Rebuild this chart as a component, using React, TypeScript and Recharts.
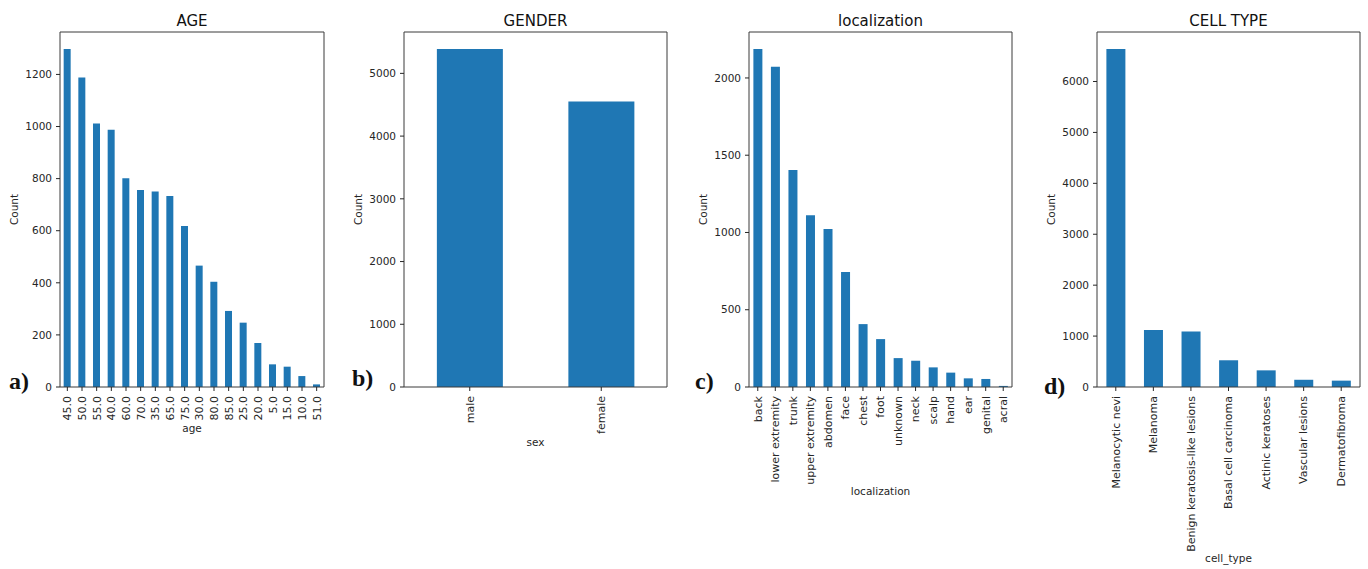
import React from "react";
import { BarChart, Bar, XAxis, YAxis, Label, CartesianGrid } from "recharts";

const BLUE = "#1f77b4";
const INK = "#262626";
const EDGE = "#3a3a3a";
const SANS = "'DejaVu Sans', sans-serif";
const SERIF = "'Liberation Serif', serif";

// a) AGE
const ageLabels = ["45.0", "50.0", "55.0", "40.0", "60.0", "70.0", "35.0", "65.0", "75.0", "30.0", "80.0", "85.0", "25.0", "20.0", "5.0", "15.0", "10.0", "51.0"];
const ageCounts = [1298, 1188, 1012, 988, 801, 756, 751, 733, 618, 466, 404, 292, 247, 169, 87, 78, 42, 10];
const ageTicks = [0, 200, 400, 600, 800, 1000, 1200];

// b) GENDER
const sexLabels = ["male", "female"];
const sexCounts = [5390, 4550];
const sexTicks = [0, 1000, 2000, 3000, 4000, 5000];

// c) localization
const locLabels = ["back", "lower extremity", "trunk", "upper extremity", "abdomen", "face", "chest", "foot", "unknown", "neck", "scalp", "hand", "ear", "genital", "acral"];
const locCounts = [2188, 2073, 1405, 1112, 1022, 744, 407, 310, 187, 170, 127, 93, 56, 52, 7];
const locTicks = [0, 500, 1000, 1500, 2000];

// d) CELL TYPE
const cellLabels = ["Melanocytic nevi", "Melanoma", "Benign keratosis-like lesions", "Basal cell carcinoma", "Actinic keratoses", "Vascular lesions", "Dermatofibroma"];
const cellCounts = [6640, 1117, 1088, 525, 327, 142, 125];
const cellTicks = [0, 1000, 2000, 3000, 4000, 5000, 6000];

const PLOT_TOP = 32;
const PLOT_BOTTOM = 387;
const H = 569;
const YW = 60;

const RotTick = ({ x, y, payload }: any) => (
  <text
    x={x}
    y={y}
    transform={`rotate(-90, ${x}, ${y})`}
    textAnchor="end"
    dy="0.35em"
    fill={INK}
    fontSize={11}
    fontFamily={SANS}
  >
    {payload.value}
  </text>
);

interface PanelProps {
  boxLeft: number;
  boxRight: number;
  labels: string[];
  counts: number[];
  ticks: number[];
  title: string;
  xName: string;
  xNameY: number;
}

function Panel({ boxLeft, boxRight, labels, counts, ticks, title, xName, xNameY }: PanelProps) {
  const data = labels.map((name, i) => ({ name, v: counts[i] }));
  const top = Math.max(...counts) * 1.05;
  const w = boxRight - boxLeft + YW + 2;
  return (
    <div style={{ position: "absolute", left: boxLeft - YW, top: 0 }}>
      <BarChart
        width={w}
        height={H}
        data={data}
        margin={{ top: PLOT_TOP, right: 2, left: 0, bottom: 0 }}
        barCategoryGap="25%"
      >
        {/* top and right spines of the matplotlib-style frame */}
        <CartesianGrid
          stroke={EDGE}
          strokeWidth={1}
          horizontalCoordinatesGenerator={({ offset }: any) => [offset.top]}
          verticalCoordinatesGenerator={({ offset }: any) => [offset.left + offset.width]}
        />
        <XAxis
          dataKey="name"
          interval={0}
          height={H - PLOT_BOTTOM}
          tick={<RotTick />}
          tickSize={4}
          tickMargin={5}
          stroke={EDGE}
          tickLine={{ stroke: INK }}
        >
          <Label
            content={(p: any) => (
              <text
                x={p.viewBox.x + p.viewBox.width / 2}
                y={xNameY}
                textAnchor="middle"
                fill={INK}
                fontSize={10.5}
                fontFamily={SANS}
              >
                {xName}
              </text>
            )}
          />
          <Label
            content={(p: any) => (
              <text
                x={p.viewBox.x + p.viewBox.width / 2}
                y={PLOT_TOP - 6}
                textAnchor="middle"
                fill="#111"
                fontSize={15}
                fontFamily={SANS}
              >
                {title}
              </text>
            )}
          />
        </XAxis>
        <YAxis
          width={YW}
          domain={[0, top]}
          ticks={ticks}
          tickSize={4}
          tickMargin={4}
          stroke={EDGE}
          tickLine={{ stroke: INK }}
          tick={{ fill: INK, fontSize: 10.5, fontFamily: SANS }}
        >
          <Label
            content={(p: any) => {
              const cx = p.viewBox.x + 14;
              const cy = p.viewBox.y + p.viewBox.height / 2;
              return (
                <text
                  x={cx}
                  y={cy}
                  transform={`rotate(-90, ${cx}, ${cy})`}
                  textAnchor="middle"
                  dy="0.35em"
                  fill={INK}
                  fontSize={10.5}
                  fontFamily={SANS}
                >
                  Count
                </text>
              );
            }}
          />
        </YAxis>
        <Bar dataKey="v" fill={BLUE} isAnimationActive={false} />
      </BarChart>
    </div>
  );
}

const letters = [
  { t: "a)", x: 9, y: 389 },
  { t: "b)", x: 352, y: 386 },
  { t: "c)", x: 695, y: 389 },
  { t: "d)", x: 1044, y: 394 },
];

export default function App() {
  return (
    <div style={{ position: "absolute", left: 0, top: 0, width: 1368, height: H, background: "#fff", overflow: "hidden" }}>
      <Panel boxLeft={60} boxRight={324} labels={ageLabels} counts={ageCounts} ticks={ageTicks} title="AGE" xName="age" xNameY={432} />
      <Panel boxLeft={404} boxRight={667} labels={sexLabels} counts={sexCounts} ticks={sexTicks} title="GENDER" xName="sex" xNameY={446} />
      <Panel boxLeft={749} boxRight={1012} labels={locLabels} counts={locCounts} ticks={locTicks} title="localization" xName="localization" xNameY={495} />
      <Panel boxLeft={1097} boxRight={1360} labels={cellLabels} counts={cellCounts} ticks={cellTicks} title="CELL TYPE" xName="cell_type" xNameY={562} />
      <svg width={1368} height={H} style={{ position: "absolute", left: 0, top: 0, pointerEvents: "none" }}>
        {letters.map((l) => (
          <text key={l.t} x={l.x} y={l.y} fontSize={24} fontWeight="bold" fontFamily={SERIF} fill="#111">
            {l.t}
          </text>
        ))}
      </svg>
    </div>
  );
}
